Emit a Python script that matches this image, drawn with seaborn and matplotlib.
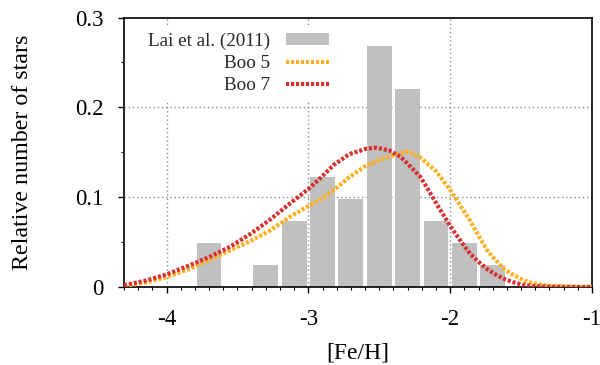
import matplotlib
matplotlib.use("Agg")
import matplotlib.pyplot as plt
import seaborn as sns
import numpy as np
import pandas as pd
from matplotlib.patches import Patch
from matplotlib.lines import Line2D
from matplotlib.ticker import MultipleLocator

# Histogram (Lai et al. 2011)
bin_centers = [-3.7, -3.5, -3.3, -3.1, -2.9, -2.7, -2.5, -2.3, -2.1, -1.9, -1.7]
bin_values = [0.0488, 0.0, 0.0244, 0.0732, 0.122, 0.0976, 0.268, 0.220, 0.0732, 0.0488, 0.0244]

# Boo 5 model
boo5_x = [-4.3, -4.15, -4.0, -3.84, -3.69, -3.55, -3.41, -3.27, -3.13, -3.0, -2.93,
          -2.82, -2.71, -2.59, -2.47, -2.35, -2.3, -2.21, -2.1, -2.0, -1.93, -1.86,
          -1.8, -1.74, -1.68, -1.62, -1.56, -1.5, -1.45, -1.38, -1.3, -1.15, -1.0]
boo5_y = [0.001, 0.005, 0.011, 0.020, 0.0305, 0.041, 0.051, 0.063, 0.078, 0.090, 0.096,
          0.108, 0.1225, 0.1355, 0.143, 0.149, 0.151, 0.144, 0.129, 0.108, 0.091, 0.074,
          0.057, 0.041, 0.030, 0.020, 0.014, 0.009, 0.0056, 0.003, 0.0012, 0.0002, 0.0]

# Boo 7 model
boo7_x = [-4.3, -4.15, -4.0, -3.84, -3.69, -3.55, -3.41, -3.27, -3.13, -3.0, -2.93,
          -2.82, -2.71, -2.59, -2.52, -2.43, -2.35, -2.28, -2.21, -2.15, -2.09, -2.0,
          -1.93, -1.86, -1.8, -1.74, -1.68, -1.62, -1.56, -1.5, -1.42, -1.3, -1.15, -1.0]
boo7_y = [0.002, 0.007, 0.014, 0.024, 0.034, 0.045, 0.059, 0.075, 0.093, 0.109, 0.119,
          0.136, 0.148, 0.154, 0.155, 0.152, 0.145, 0.134, 0.1225, 0.107, 0.091, 0.068,
          0.052, 0.037, 0.028, 0.020, 0.014, 0.009, 0.0055, 0.003, 0.0012, 0.0003, 0.0001, 0.0]

x_ticks = [-4, -3, -2, -1]
x_tick_labels = ["-4", "-3", "-2", "-1"]
y_ticks = [0, 0.1, 0.2, 0.3]
y_tick_labels = ["0", "0.1", "0.2", "0.3"]

sns.set_theme(style="white")
plt.rcParams['font.family'] = ['Liberation Serif', 'DejaVu Serif']

BAR = "#c0c0c0"
ORANGE = "#ffb020"
RED = "#d93030"
LW = 3.0

fig = plt.figure(figsize=(6.0, 3.65), dpi=100)
ax = fig.add_axes([124/600, 1-287/365, (592-124)/600, (287-17.5)/365])

df = pd.DataFrame({"x": bin_centers, "y": bin_values})
sns.barplot(data=df, x="x", y="y", native_scale=True, width=0.875, color=BAR,
            saturation=1, edgecolor="none", linewidth=0, ax=ax, zorder=2)

dot = (0, (0.75, 0.45))
sns.lineplot(x=boo5_x, y=boo5_y, color=ORANGE, lw=LW, linestyle=dot, ax=ax,
             zorder=3, dash_capstyle="butt", sort=False)
sns.lineplot(x=boo7_x, y=boo7_y, color=RED, lw=LW, linestyle=dot, ax=ax,
             zorder=4, dash_capstyle="butt", sort=False)

ax.set_xlim(-4.3, -1)
ax.set_ylim(0, 0.3)

for xv in [-4, -3, -2]:
    ax.axvline(xv, color="#8a8a8a", lw=1.0, ls=(0, (1, 2)), zorder=1)
for yv in [0.1, 0.2]:
    ax.axhline(yv, color="#8a8a8a", lw=1.0, ls=(0, (1, 2)), zorder=1)

ax.set_xticks(x_ticks)
ax.set_xticklabels(x_tick_labels)
ax.set_yticks(y_ticks)
ax.set_yticklabels(y_tick_labels)
ax.xaxis.set_minor_locator(MultipleLocator(0.1))
ax.yaxis.set_minor_locator(MultipleLocator(0.05))
ax.tick_params(axis="both", which="major", direction="out", length=4, width=1,
               labelsize=16.5, color="black", pad=12, labelcolor="black")
ax.tick_params(axis="both", which="minor", direction="out", length=2.5, width=0.8,
               color="black")
ax.tick_params(axis="y", which="major", pad=11)
ax.tick_params(bottom=True, left=True, top=False, right=False, which="both")

for s in ax.spines.values():
    s.set_visible(True)
    s.set_color("black")
    s.set_linewidth(1.2)

ax.set_xlabel("[Fe/H]", fontsize=17, labelpad=9, color="black")
ax.set_ylabel("Relative number of stars", fontsize=17.3, labelpad=30, color="black")

handles = [Patch(facecolor=BAR, edgecolor="none"),
           Line2D([], [], color=ORANGE, lw=LW, ls=dot, dash_capstyle="butt"),
           Line2D([], [], color=RED, lw=LW, ls=dot, dash_capstyle="butt")]
labels = ["Lai et al. (2011)", "Boo 5", "Boo 7"]
leg = ax.legend(handles, labels, loc="upper right", bbox_to_anchor=(0.451, 0.965),
                markerfirst=False, frameon=True, fancybox=False, framealpha=1,
                edgecolor="white", facecolor="white", fontsize=13.8,
                handlelength=2.25, handleheight=0.55, labelspacing=0.27,
                handletextpad=0.85, borderpad=0.3, borderaxespad=0.0)
for t in leg.get_texts():
    t.set_ha("right")
leg.set_zorder(5)

fig.savefig("out.png", dpi=100)
